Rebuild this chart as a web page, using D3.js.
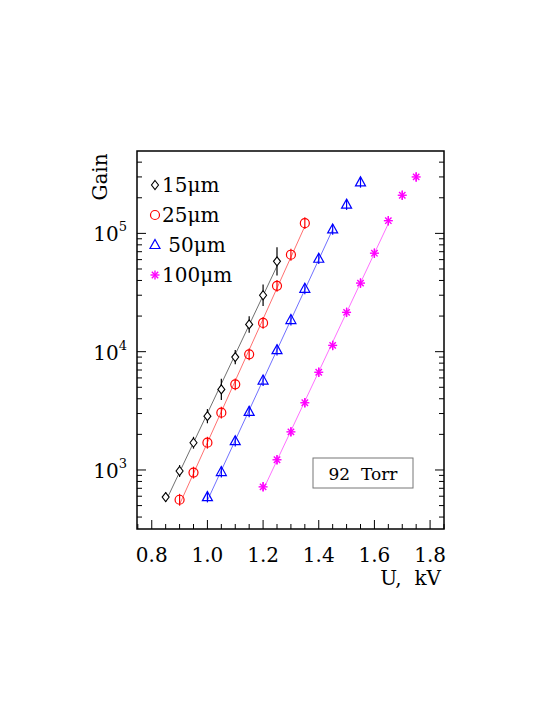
<!DOCTYPE html>
<html><head><meta charset="utf-8">
<script src="https://cdn.jsdelivr.net/npm/d3@7"></script>
<style>body{margin:0;background:#fff}text{font-family:"DejaVu Serif",serif}</style>
</head><body><svg id="c" width="545" height="705"></svg>
<script>
const xs15 = [0.85, 0.9, 0.95, 1.0, 1.05, 1.1, 1.15, 1.2, 1.25];
const g15 = [590, 980, 1700, 2850, 4800, 9000, 17000, 30000, 58000];
const e15 = [0.04, 0.05, 0.05, 0.06, 0.09, 0.06, 0.07, 0.09, 0.12];
const xs25 = [0.9, 0.95, 1.0, 1.05, 1.1, 1.15, 1.2, 1.25, 1.3, 1.35];
const g25 = [560, 950, 1700, 3050, 5300, 9500, 17500, 36000, 66000, 122000];
const xs50 = [1.0, 1.05, 1.1, 1.15, 1.2, 1.25, 1.3, 1.35, 1.4, 1.45, 1.5, 1.55];
const g50 = [590, 960, 1750, 3100, 5700, 10300, 18500, 34000, 61000, 108000, 175000, 270000];
const xs100 = [1.2, 1.25, 1.3, 1.35, 1.4, 1.45, 1.5, 1.55, 1.6, 1.65, 1.7, 1.75];
const g100 = [720, 1220, 2100, 3700, 6700, 11300, 21500, 38000, 68000, 128000, 210000, 300000];
const labels = ["15\u03bcm", "25\u03bcm", " 50\u03bcm", "100\u03bcm"];

const series = [
  {x: xs15, y: g15, err: e15, color: "#000", sym: "diamond", fitN: 9},
  {x: xs25, y: g25, err: xs25.map(() => 0.05), color: "#f00", sym: "circle", fitN: 10},
  {x: xs50, y: g50, err: xs50.map(() => 0.045), color: "#00f", sym: "triangle", fitN: 10},
  {x: xs100, y: g100, err: xs100.map(() => 0.04), color: "#f0f", sym: "star", fitN: 10}
];

const svg = d3.select("#c");
const L = 137, R = 444, T = 151, B = 529;
const x = d3.scaleLinear().domain([0.747, 1.85]).range([L, R]);
const y = d3.scaleLog().domain([317, 497000]).range([B, T]);

svg.append("rect").attr("x", L).attr("y", T).attr("width", R - L).attr("height", B - T)
  .attr("fill", "none").attr("stroke", "#000").attr("stroke-width", 1.5);

// x ticks
d3.range(0.75, 1.851, 0.05).forEach(v => {
  const major = Math.abs(v * 5 - Math.round(v * 5)) < 1e-6;
  svg.append("line").attr("x1", x(v)).attr("x2", x(v)).attr("y1", B).attr("y2", B - (major ? 9 : 5))
    .attr("stroke", "#000");
});
[0.8, 1.0, 1.2, 1.4, 1.6, 1.8].forEach(v => {
  svg.append("text").attr("x", x(v)).attr("y", B + 33).attr("text-anchor", "middle")
    .attr("font-size", 20).text(d3.format(".1f")(v));
});
// y ticks
const yt = [];
[100, 1000, 10000, 100000].forEach(d => { for (let k = 1; k < 10; k++) yt.push(d * k); });
yt.filter(v => v >= 317 && v <= 497000).forEach(v => {
  const major = [1000, 10000, 100000].includes(v);
  const len = major ? 9 : 5;
  svg.append("line").attr("x1", L).attr("x2", L + len).attr("y1", y(v)).attr("y2", y(v)).attr("stroke", "#000");
  svg.append("line").attr("x1", R).attr("x2", R - len).attr("y1", y(v)).attr("y2", y(v)).attr("stroke", "#000");
});
[3, 4, 5].forEach(p => {
  const t = svg.append("text").attr("x", L - 10).attr("y", y(Math.pow(10, p)) + 8)
    .attr("text-anchor", "end").attr("font-size", 20);
  t.append("tspan").text("10");
  t.append("tspan").attr("dy", -10).attr("font-size", 13).text(p);
});
svg.append("text").attr("transform", `translate(107,${T + 26}) rotate(-90)`).attr("text-anchor", "middle")
  .attr("font-size", 20).text("Gain");
svg.append("text").attr("x", R - 3).attr("y", 585).attr("text-anchor", "end").attr("font-size", 20)
  .attr("xml:space", "preserve").text("U,  kV");

// fits (least squares in log space over fitted points)
series.forEach(s => {
  const n = s.fitN, xx = s.x.slice(0, n), ly = s.y.slice(0, n).map(Math.log10);
  const mx = d3.mean(xx), my = d3.mean(ly);
  const b = d3.sum(xx, (v, i) => (v - mx) * (ly[i] - my)) / d3.sum(xx, v => (v - mx) ** 2);
  const a = my - b * mx;
  const x0 = xx[0], x1 = xx[n - 1];
  svg.append("line").attr("x1", x(x0)).attr("x2", x(x1))
    .attr("y1", y(Math.pow(10, a + b * x0))).attr("y2", y(Math.pow(10, a + b * x1)))
    .attr("stroke", s.color).attr("stroke-width", 0.8).attr("opacity", 0.7);
});

function symbol(g, type, cx, cy, color) {
  if (type === "diamond") g.append("path").attr("d", `M${cx},${cy - 4.5}L${cx + 3.5},${cy}L${cx},${cy + 4.5}L${cx - 3.5},${cy}Z`)
    .attr("fill", "#fff").attr("stroke", color).attr("stroke-width", 1.1);
  else if (type === "circle") g.append("circle").attr("cx", cx).attr("cy", cy).attr("r", 4.5)
    .attr("fill", "none").attr("stroke", color).attr("stroke-width", 1.2);
  else if (type === "triangle") g.append("path").attr("d", `M${cx},${cy - 5.5}L${cx + 5},${cy + 3.5}L${cx - 5},${cy + 3.5}Z`)
    .attr("fill", "none").attr("stroke", color).attr("stroke-width", 1.2);
  else {
    [0, 45, 90, 135].forEach(a => {
      const r = 4.5, dx = r * Math.sin(a * Math.PI / 180), dy = r * Math.cos(a * Math.PI / 180);
      g.append("line").attr("x1", cx - dx).attr("x2", cx + dx).attr("y1", cy - dy).attr("y2", cy + dy)
        .attr("stroke", color).attr("stroke-width", 1.4);
    });
  }
}

series.forEach(s => {
  const g = svg.append("g");
  s.x.forEach((xv, i) => {
    const cx = x(xv), cy = y(s.y[i]);
    g.append("line").attr("x1", cx).attr("x2", cx)
      .attr("y1", y(s.y[i] * Math.pow(10, s.err[i]))).attr("y2", y(s.y[i] / Math.pow(10, s.err[i])))
      .attr("stroke", s.color).attr("stroke-width", 1.2);
    symbol(g, s.sym, cx, cy, s.color);
  });
});

// legend
labels.forEach((lab, i) => {
  const ly = 185 + i * 30;
  symbol(svg, series[i].sym, 155, ly, series[i].color);
  svg.append("text").attr("x", 162).attr("y", ly + 7).attr("font-size", 20)
    .attr("xml:space", "preserve").text(lab);
});

svg.append("rect").attr("x", 313).attr("y", 458).attr("width", 100).attr("height", 30)
  .attr("fill", "#fff").attr("stroke", "#777");
svg.append("text").attr("x", 363).attr("y", 480).attr("text-anchor", "middle").attr("font-size", 17)
  .attr("xml:space", "preserve").text("92  Torr");
</script></body></html>
